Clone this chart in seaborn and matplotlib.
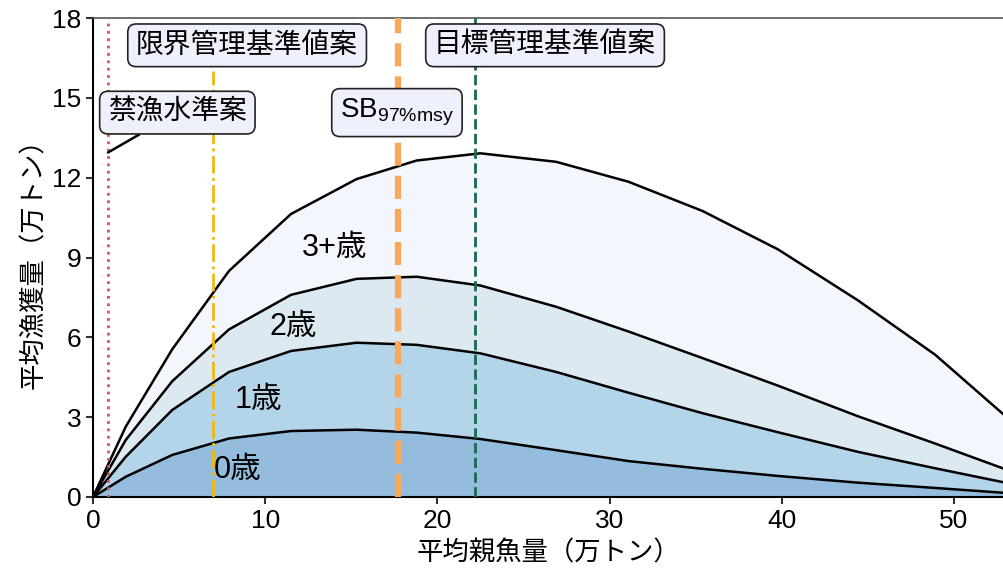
import numpy as np
import pandas as pd
import matplotlib
matplotlib.use("Agg")
import matplotlib.pyplot as plt
import seaborn as sns

# ---- data ----
ssb = [0, 1.9, 4.6, 7.9, 11.5, 15.3, 18.8, 22.5, 26.9, 31.1, 35.4, 39.8, 44.4, 48.9, 53.5]
age0 = [0, 0.76, 1.58, 2.20, 2.48, 2.53, 2.42, 2.18, 1.76, 1.35, 1.06, 0.79, 0.54, 0.34, 0.13]
age1 = [0, 0.75, 1.69, 2.50, 3.01, 3.27, 3.30, 3.22, 2.94, 2.57, 2.09, 1.64, 1.16, 0.74, 0.34]
age2 = [0, 0.63, 1.08, 1.60, 2.11, 2.40, 2.56, 2.55, 2.45, 2.30, 2.07, 1.75, 1.34, 0.93, 0.45]
age3 = [0, 0.50, 1.20, 2.20, 3.04, 3.75, 4.37, 4.97, 5.45, 5.63, 5.53, 5.12, 4.36, 3.34, 1.83]
age_labels = ["0歳", "1歳", "2歳", "3+歳"]
age_label_pos = [(8.4, 1.0), (9.6, 3.65), (11.6, 6.4), (14.0, 9.35)]

ref_names = ["禁漁水準案", "限界管理基準値案", "SB$_{97\\%msy}$", "目標管理基準値案"]
ref_x = [0.87, 6.95, 17.7, 22.2]
ref_top = [18, 16.0, 18, 18]
ref_colors = ["#d9534f", "#efb817", "#f9a85a", "#17694f"]
ref_styles = [":", "-.", "--", "--"]
ref_widths = [2.0, 2.0, 4.5, 2.0]
ref_label_pos = [(4.9, 14.45), (8.95, 16.98), (17.65, 14.45), (26.25, 16.98)]

fill_colors = ["#94bddd", "#b4d4e9", "#dce9f1", "#f3f7fd"]

# ---- style ----
sns.set_style("ticks")
plt.rcParams["font.family"] = ["Liberation Sans", "Noto Sans CJK JP", "DejaVu Sans"]
plt.rcParams["mathtext.default"] = "regular"
plt.rcParams["text.color"] = "black"
plt.rcParams["axes.labelcolor"] = "black"
plt.rcParams["xtick.color"] = "black"
plt.rcParams["ytick.color"] = "black"

fig = plt.figure(figsize=(10.04, 5.68), dpi=100)
ax = fig.add_axes([0.0926, 0.125, 0.9074, 0.843])

df = pd.DataFrame({"ssb": ssb, "a0": age0, "a1": age1, "a2": age2, "a3": age3})
cum = df[["a0", "a1", "a2", "a3"]].cumsum(axis=1)

lower = np.zeros(len(df))
for i, col in enumerate(["a0", "a1", "a2", "a3"]):
    upper = cum[col].values
    ax.fill_between(df["ssb"], lower, upper, color=fill_colors[i], lw=0, zorder=1)
    sns.lineplot(x=df["ssb"], y=upper, ax=ax, color="black", lw=1.8, zorder=3,
                 sort=False, estimator=None)
    lower = upper

for (lx, ly), lab in zip(age_label_pos, age_labels):
    ax.text(lx, ly, lab, fontsize=22, ha="center", va="center", zorder=5)

bbox = dict(boxstyle="round,pad=0.3", fc="#eef1fb", ec="#222222", lw=1.2)
for i in range(4):
    ax.plot([ref_x[i], ref_x[i]], [0, ref_top[i]], color=ref_colors[i],
            ls=ref_styles[i], lw=ref_widths[i], zorder=4)

# labels
ax.annotate(ref_names[0], xy=(ref_x[0], 12.95), xytext=ref_label_pos[0],
            fontsize=20, ha="center", va="center", bbox=bbox, zorder=6,
            arrowprops=dict(arrowstyle="-", color="black", lw=1.8,
                            shrinkA=0, shrinkB=0))
for i in range(1, 4):
    ax.text(ref_label_pos[i][0], ref_label_pos[i][1], ref_names[i], fontsize=20,
            ha="center", va="center", bbox=bbox, zorder=6)

ax.set_xlim(0, 52.9)
ax.set_ylim(0, 18)
ax.set_xticks([0, 10, 20, 30, 40, 50])
ax.set_yticks([0, 3, 6, 9, 12, 15, 18])
ax.tick_params(labelsize=19, length=5, width=1.5, color="#333333")
ax.set_xlabel("平均親魚量（万トン）", fontsize=19, labelpad=2)
ax.set_ylabel("平均漁獲量（万トン）", fontsize=19, labelpad=4)
ax.xaxis.set_label_coords(0.5, -0.09)

for s in ["left", "bottom"]:
    ax.spines[s].set_color("black")
    ax.spines[s].set_linewidth(1.5)
ax.spines["top"].set_color("#555555")
ax.spines["top"].set_linewidth(1.2)
ax.spines["right"].set_visible(False)

fig.savefig("out.png", dpi=100)
